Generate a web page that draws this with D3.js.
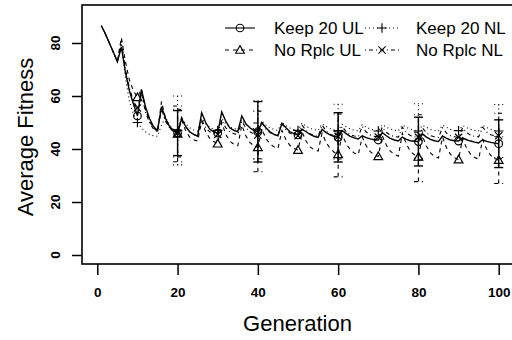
<!DOCTYPE html>
<html><head><meta charset="utf-8">
<script src="https://cdn.jsdelivr.net/npm/d3@7"></script>
<style>
body{margin:0;background:#fff;}
text{font-family:"Liberation Sans",Arial,sans-serif;fill:#000;}
</style></head>
<body><svg id="chart" width="512" height="340"></svg>
<script>
const generations = d3.range(1, 101);
const xTicks = [0, 20, 40, 60, 80, 100];
const yTicks = [0, 20, 40, 60, 80];
const markerGens = [10, 20, 30, 40, 50, 60, 70, 80, 90, 100];
const errorGens = [20, 40, 60, 80, 100];

const keep20UL = [86.5,83.5,80,76.5,73, 78.5,69,62,57,52.5, 62.5,56,51.5,48.5,47, 56,51.5,48.5,47,46,
 51.5,48.5,46.5,45.5,44.8, 53.7,50,47.5,46.5,46, 54,50.5,48,47,46.5, 52.5,49.5,48,47,46.5,
 50,48,46.5,45.5,45, 49.7,48,46.5,45.8,45.3, 47.5,46.5,45.5,44.8,44.4, 47.4,46.2,45.3,44.7,44.4,
 47,45.8,44.8,44.2,43.8, 45,44.3,43.8,43.5,43.4, 46.2,45,44,43.4,43, 44.5,43.6,43.1,42.9,42.8,
 45.7,44.5,43.6,43.1,42.8, 44.9,44,43.4,43.1,43, 44.2,43.5,43,42.6,42.3, 43.5,42.9,42.5,42.2,42];
const keep20NL = [86.5,83.5,80,76.5,73, 80,67,58,53,50, 48,46.5,45.5,45,44.8, 49,52,49,47.5,47,
 52,49.5,48,47.2,46.8, 51.5,49.5,48.2,47.5,47, 51.5,49.5,48.3,47.7,47.3, 51,49.3,48.2,47.6,47.2,
 50.5,49,48,47.4,47, 50,48.8,47.9,47.3,47, 49.8,48.6,47.8,47.3,47, 49.5,48.5,47.7,47.2,46.9,
 49.3,48.4,47.6,47.1,46.9, 49.2,48.3,47.5,47.1,46.8, 49.2,48.3,47.5,47.1,46.8, 49,48.2,47.5,47.1,46.8,
 49,48.2,47.4,47,46.8, 49,48.2,47.4,47,46.9, 48.9,48.1,47.4,47,46.8, 48.9,48.1,47.4,47,46.8];
const noRplcUL = [86.5,83.5,80,76.5,73, 82,73,66,62,59.5, 62.5,55,50.5,48,46.5, 58,51.5,48,46.5,45.7,
 51,47,44.5,43.5,43, 50.5,46.5,44,42.8,42, 50,45.5,43,41.8,41.2, 49,45,42.5,41.2,40.6,
 47.5,44,42,40.8,40.2, 47,43.5,41.3,40.2,39.6, 46.5,43,40.8,39.7,39.2, 46,42.5,40.2,38.8,38,
 45.5,42,39.8,38.5,37.8, 44.5,41.2,39,37.8,37.2, 45,41.5,39.2,38,37.3, 46,41.8,39.2,37.8,37,
 45,41,38.5,37.2,36.6, 44.5,40.5,38,36.7,36, 44,40.3,38,36.8,36.2, 43.5,40,37.6,36.4,35.8];
const noRplcNL = [86.5,83.5,80,76.5,73, 81,70,63,58,55.5, 61,54,50,47.5,46.5, 55,50.5,48,46.8,46,
 52,48.5,46.5,45.5,45, 51,48,46.5,45.8,45.5, 51,48,46.5,45.8,45.4, 50.5,48,46.5,45.7,45.3,
 50,47.5,46.2,45.5,45.1, 49.5,47.3,46,45.3,45, 49,47,45.8,45.1,44.8, 49,46.8,45.6,45,44.7,
 48.5,46.5,45.4,44.9,44.6, 48.5,46.4,45.3,44.8,44.5, 48.3,46.3,45.2,44.7,44.5, 48.2,46.2,45.1,44.6,44.4,
 48,46.1,45,44.6,44.4, 48,46,45,44.6,44.4, 48,46.2,45.2,44.8,44.6, 48.2,46.4,45.4,45,45];

const keep20ULsd = [8.5, 11.4, 9.3, 9.2, 9];
const keep20NLsd = [13, 11, 10, 10.3, 10];
const noRplcULsd = [10.5, 9.2, 8.5, 9.3, 8.8];
const noRplcNLsd = [9, 9, 8.5, 8.5, 8.5];

const seriesNames = ["Keep 20 UL", "Keep 20 NL", "No Rplc UL", "No Rplc NL"];
const seriesDash = [null, "1,3", "4,4", "1,3,4,3"];
const seriesWidth = [1.4, 1.1, 1.1, 1.1];
const seriesShape = ["circle", "plus", "triangle", "cross"];
const seriesValues = [keep20UL, keep20NL, noRplcUL, noRplcNL];
const seriesSD = [keep20ULsd, keep20NLsd, noRplcULsd, noRplcNLsd];

const svg = d3.select("#chart");
const x = d3.scaleLinear().domain([0, 100]).range([97.3, 498.7]);
const y = d3.scaleLinear().domain([0, 80]).range([255, 43]);

// box
svg.append("rect").attr("x", 82).attr("y", 5).attr("width", 460).attr("height", 259)
  .attr("fill", "none").attr("stroke", "#000").attr("stroke-width", 1.6);

// x axis
const xa = svg.append("g").attr("transform", "translate(0,264)")
  .call(d3.axisBottom(x).tickValues(xTicks).tickSize(11).tickPadding(12).tickFormat(d3.format("d")));
xa.select(".domain").remove();
xa.selectAll("line").attr("stroke", "#000").attr("stroke-width", 1.5);
xa.selectAll("text").attr("font-size", 13.5).attr("font-weight", "bold")
  .attr("font-family", "Liberation Sans, Arial, sans-serif").attr("fill", "#000");

// y axis
const ya = svg.append("g").attr("transform", "translate(82,0)")
  .call(d3.axisLeft(y).tickValues(yTicks).tickSize(10).tickFormat(""));
ya.select(".domain").remove();
ya.selectAll("line").attr("stroke", "#000").attr("stroke-width", 1.5);
svg.append("g").selectAll("text").data(yTicks).join("text")
  .attr("transform", d => `translate(55.5,${y(d)}) rotate(-90)`)
  .attr("text-anchor", "middle").attr("dy", "0.35em")
  .attr("font-size", 13.5).attr("font-weight", "bold").text(d => d);

// titles
svg.append("text").attr("x", 297.5).attr("y", 323).attr("dy", "0.35em")
  .attr("text-anchor", "middle").attr("font-size", 22).text("Generation");
svg.append("text").attr("transform", "translate(25,137) rotate(-90)").attr("dy", "0.35em")
  .attr("text-anchor", "middle").attr("font-size", 22).text("Average Fitness");

const line = d3.line().x((d, i) => x(generations[i])).y(d => y(d));

function marker(g, shape, cx, cy) {
  const r = 3.8;
  if (shape === "circle") {
    g.append("circle").attr("cx", cx).attr("cy", cy).attr("r", r).attr("fill", "none");
  } else if (shape === "triangle") {
    const h = r * 1.15;
    g.append("path").attr("d", `M${cx},${cy - h}L${cx + h},${cy + h * 0.75}L${cx - h},${cy + h * 0.75}Z`).attr("fill", "none");
  } else if (shape === "plus") {
    const s = 4.8;
    g.append("path").attr("d", `M${cx - s},${cy}H${cx + s}M${cx},${cy - s}V${cy + s}`);
  } else {
    const s = 3.6;
    g.append("path").attr("d", `M${cx - s},${cy - s}L${cx + s},${cy + s}M${cx - s},${cy + s}L${cx + s},${cy - s}`);
  }
}

seriesValues.forEach((vals, si) => {
  const g = svg.append("g").attr("stroke", "#000").attr("fill", "none").attr("stroke-width", seriesWidth[si]);
  g.append("path").attr("d", line(vals)).attr("stroke-dasharray", seriesDash[si]);
  errorGens.forEach((gen, k) => {
    const v = vals[gen - 1], sd = seriesSD[si][k];
    const cx = x(gen);
    const eg = g.append("g").attr("stroke-dasharray", seriesDash[si]);
    eg.append("line").attr("x1", cx).attr("x2", cx).attr("y1", y(v - sd)).attr("y2", y(v + sd));
    eg.append("line").attr("x1", cx - 4.5).attr("x2", cx + 4.5).attr("y1", y(v + sd)).attr("y2", y(v + sd));
    eg.append("line").attr("x1", cx - 4.5).attr("x2", cx + 4.5).attr("y1", y(v - sd)).attr("y2", y(v - sd));
  });
  const mg = g.append("g").attr("stroke-width", 1.2);
  markerGens.forEach(gen => marker(mg, seriesShape[si], x(gen), y(vals[gen - 1])));
});

// legend
const legX = [[225, 255, 240, 274], [365, 400, 382, 416]];
const legY = [28, 50];
const legOrder = [[0, 0, 0], [1, 0, 1], [2, 1, 0], [3, 1, 1]];
legOrder.forEach(([si, row, col]) => {
  const [x1, x2, px, tx] = legX[col];
  const yy = legY[row];
  const g = svg.append("g").attr("stroke", "#000").attr("fill", "none").attr("stroke-width", 1.1);
  g.append("line").attr("x1", x1).attr("x2", x2).attr("y1", yy).attr("y2", yy).attr("stroke-dasharray", seriesDash[si]);
  marker(g, seriesShape[si], px, yy);
  svg.append("text").attr("x", tx).attr("y", yy).attr("dy", "0.35em").attr("font-size", 17).text(seriesNames[si]);
});
</script></body></html>
